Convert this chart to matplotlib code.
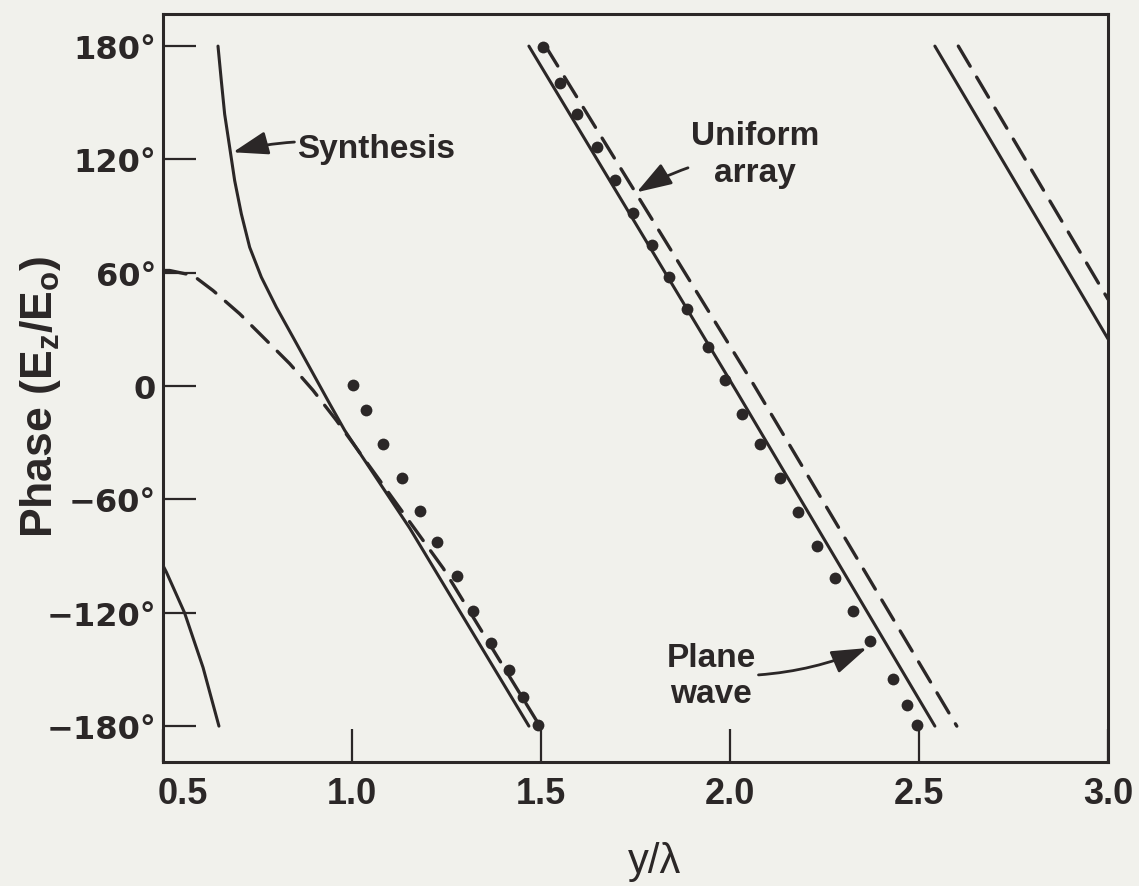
import matplotlib
matplotlib.use("Agg")
import matplotlib.pyplot as plt
import matplotlib.transforms as mtransforms

INK = "#2b2727"
PAPER = "#f1f1ec"

# Synthesis (solid), one branch per 360 deg wrap
synth_x0 = [0.500, 0.509, 0.557, 0.606, 0.648]
synth_y0 = [-95.0, -98.5, -120.0, -149.0, -180.0]
synth_x1 = [0.6455, 0.6543, 0.6631, 0.6764, 0.6896, 0.7072, 0.7293, 0.7601,
            0.7998, 0.8439, 0.8924, 0.9409, 0.9806, 1.153, 1.468]
synth_y1 = [180.0, 161.6, 144.0, 126.4, 108.8, 91.2, 73.5, 57.7,
            41.8, 25.9, 8.3, -9.3, -23.4, -75.3, -180.0]
synth_x2 = [1.468, 2.018, 2.542]
synth_y2 = [180.0, -3.0, -180.0]
synth_x3 = [2.542, 2.891, 3.0]
synth_y3 = [180.0, 62.0, 25.0]

# Uniform array (dashed)
unif_x1 = [0.500, 0.5176, 0.5794, 0.6323, 0.7028, 0.7646, 0.8351, 0.8968,
           0.9586, 1.2415, 1.497]
unif_y1 = [61.2, 61.2, 58.6, 50.6, 38.3, 26.0, 11.9, -2.2,
           -18.1, -96.5, -180.0]
unif_x2 = [1.512, 2.062, 2.600]
unif_y2 = [180.0, 1.0, -180.0]
unif_x3 = [2.604, 3.0]
unif_y3 = [180.0, 46.0]

# Plane wave (dots)
plane_x = [1.0035, 1.036, 1.083, 1.1315, 1.180, 1.2257, 1.277, 1.321,
           1.3677, 1.4153, 1.4515, 1.493,
           1.5045, 1.550, 1.5955, 1.647, 1.695, 1.744, 1.793, 1.839,
           1.887, 1.941, 1.988, 2.031, 2.079, 2.132, 2.179, 2.229,
           2.278, 2.326, 2.370, 2.430, 2.467, 2.494]
plane_y = [0.8, -12.8, -30.9, -48.5, -66.2, -82.7, -100.7, -119.0,
           -135.9, -150.5, -164.8, -179.3,
           179.3, 160.3, 144.0, 126.4, 109.3, 91.5, 74.9, 57.7,
           40.9, 20.9, 3.2, -14.5, -30.8, -48.5, -66.8, -84.4,
           -101.7, -118.8, -135.2, -155.1, -168.7, -179.3]

x_ticks = [0.5, 1.0, 1.5, 2.0, 2.5, 3.0]
x_tick_labels = ["0.5", "1.0", "1.5", "2.0", "2.5", "3.0"]
y_ticks = [-180, -120, -60, 0, 60, 120, 180]
y_tick_labels = ["\u2212180°", "\u2212120°", "\u221260°", "0", "60°", "120°", "180°"]

plt.rcParams["mathtext.fontset"] = "custom"
plt.rcParams["mathtext.rm"] = "Liberation Sans:bold"
plt.rcParams["mathtext.it"] = "Liberation Sans:bold"
plt.rcParams["mathtext.bf"] = "Liberation Sans:bold"

fig = plt.figure(figsize=(11.39, 8.87), dpi=100, facecolor=PAPER)
ax = fig.add_axes([163 / 1139, 1 - 763 / 887, (1108 - 163) / 1139, (763 - 15) / 887])
ax.set_facecolor(PAPER)

solid = dict(color=INK, lw=2.2, solid_capstyle="round")
for xs, ys in [(synth_x0, synth_y0), (synth_x1, synth_y1),
               (synth_x2, synth_y2), (synth_x3, synth_y3)]:
    ax.plot(xs, ys, **solid)

for xs, ys in [(unif_x1, unif_y1), (unif_x2, unif_y2), (unif_x3, unif_y3)]:
    ax.plot(xs, ys, color=INK, lw=2.4, dashes=(7, 3.8), dash_capstyle="round")

ax.plot(plane_x, plane_y, "o", color=INK, ms=8.5, mec="none")

ax.set_xlim(0.5, 3.0)
ax.set_ylim(-199, 197)

ax.set_xticks(x_ticks)
ax.set_xticklabels(x_tick_labels, family="Liberation Sans", weight="bold", fontsize=26)
ax.set_yticks(y_ticks)
ax.set_yticklabels(y_tick_labels, family="DejaVu Sans", weight="bold", fontsize=23)
ax.tick_params(axis="both", direction="in", length=24, width=1.6, color=INK,
               labelcolor=INK)
ax.tick_params(axis="x", pad=10)
ax.tick_params(axis="y", pad=5)
for lab in ax.get_xticklabels()[:1]:
    lab.set_transform(lab.get_transform()
                      + mtransforms.ScaledTranslation(0.2, 0, fig.dpi_scale_trans))
for sp in ax.spines.values():
    sp.set_linewidth(2.2)
    sp.set_color(INK)

ax.set_ylabel("Phase (E$_{\\rm z}$/E$_{\\rm o}$)", family="Liberation Sans",
              weight="bold", fontsize=32, color=INK)
ax.yaxis.set_label_coords(-0.106, 0.49)
ax.set_xlabel("y/\u03bb", family="Liberation Sans", fontsize=30, color=INK)
ax.xaxis.set_label_coords(0.52, -0.105)

note = dict(family="Liberation Sans", weight="bold", fontsize=24, color=INK)
arrow = dict(arrowstyle="-|>,head_length=0.9,head_width=0.3", color=INK, lw=2,
             shrinkA=0, shrinkB=0)

ax.annotate("Synthesis", xy=(0.685, 123.8), xytext=(0.855, 126),
            ha="left", va="center",
            arrowprops=dict(arrow, connectionstyle="arc3,rad=0.12"), **note)
ax.annotate("Uniform\narray", xy=(1.753, 102.6), xytext=(2.066, 123),
            ha="center", va="center", linespacing=1.25,
            arrowprops=dict(arrow, connectionstyle="arc3,rad=0.12"), **note)
ax.annotate("Plane\nwave", xy=(2.362, -138.7), xytext=(1.95, -153),
            ha="center", va="center", linespacing=1.2,
            arrowprops=dict(arrow, connectionstyle="arc3,rad=0.12"), **note)

fig.savefig("out.png", dpi=100, facecolor=PAPER)
